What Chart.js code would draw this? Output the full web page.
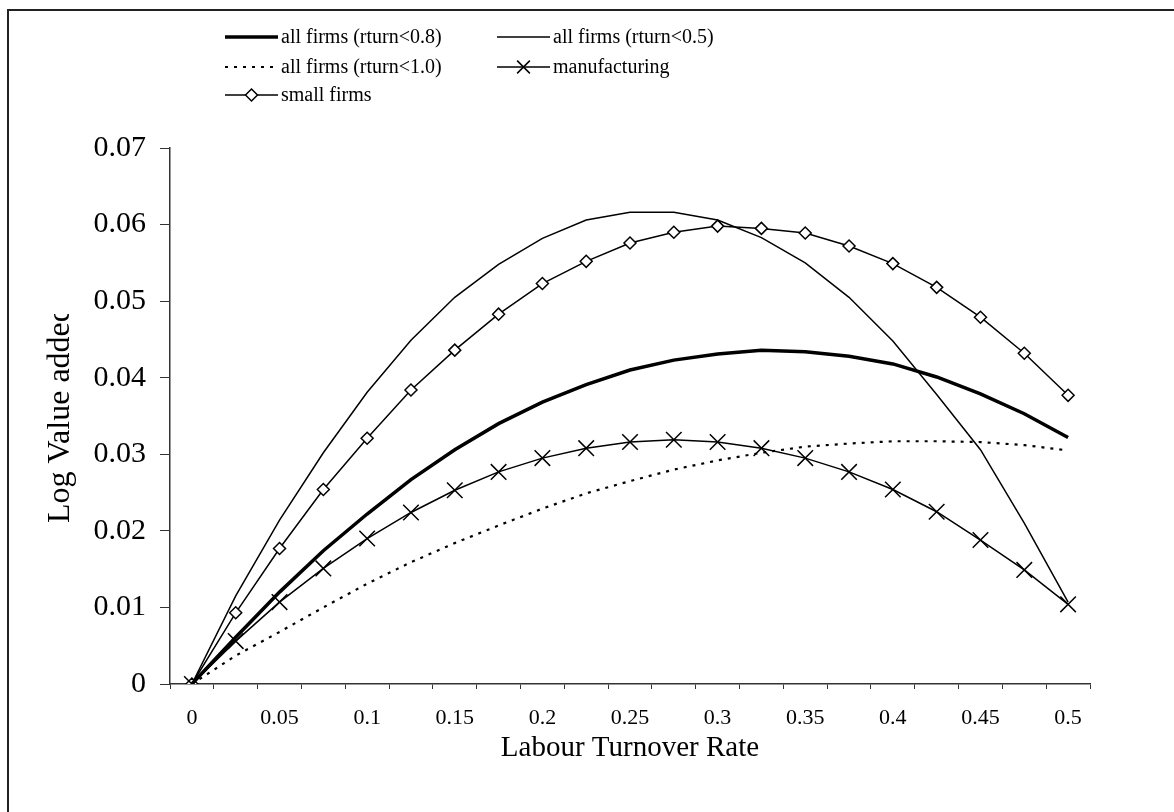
<!DOCTYPE html>
<html><head><meta charset="utf-8">
<script src="https://cdn.jsdelivr.net/npm/chart.js@4.4.1/dist/chart.umd.min.js"></script>
<style>html,body{margin:0;padding:0;background:#fff}#wrap{width:1174px;height:812px;position:relative}</style>
</head><body><div id="wrap"><canvas id="c" width="1174" height="812"></canvas></div>
<script>
// ---- data ----
const categories = ['0','0.025','0.05','0.075','0.1','0.125','0.15','0.175','0.2','0.225','0.25','0.275','0.3','0.325','0.35','0.375','0.4','0.425','0.45','0.475','0.5'];
const tickLabels = ['0','0.05','0.1','0.15','0.2','0.25','0.3','0.35','0.4','0.45','0.5'];
const seriesNames = ['all firms (rturn<0.8)','all firms (rturn<0.5)','all firms (rturn<1.0)','manufacturing','small firms'];
const rturn08 = [0,0.0061,0.0120,0.0174,0.0222,0.0267,0.0306,0.0340,0.0368,0.0391,0.0410,0.0423,0.0431,0.0436,0.0434,0.0428,0.0418,0.0401,0.0379,0.0353,0.0322];
const rturn05 = [0,0.0115,0.0214,0.0302,0.0381,0.0449,0.0505,0.0548,0.0582,0.0606,0.0616,0.0616,0.0606,0.0583,0.0550,0.0505,0.0448,0.0378,0.0306,0.0210,0.0107];
const rturn10 = [0,0.0037,0.0068,0.0100,0.0131,0.0159,0.0184,0.0207,0.0229,0.0249,0.0265,0.0280,0.0292,0.0302,0.0310,0.0314,0.0317,0.0317,0.0316,0.0312,0.0305];
const manufacturing = [0,0.0056,0.0107,0.0151,0.0190,0.0224,0.0253,0.0277,0.0295,0.0308,0.0316,0.0319,0.0316,0.0308,0.0295,0.0277,0.0254,0.0225,0.0188,0.0149,0.0104];
const smallFirms = [0,0.0093,0.0177,0.0254,0.0321,0.0384,0.0436,0.0483,0.0523,0.0552,0.0576,0.0590,0.0598,0.0595,0.0589,0.0572,0.0549,0.0518,0.0479,0.0432,0.0377];
const yTicks = [0,0.01,0.02,0.03,0.04,0.05,0.06,0.07];

const SERIF = '"Liberation Serif", "Times New Roman", serif';

function drawDiamond(ctx, x, y, r){
  ctx.beginPath(); ctx.moveTo(x, y-r); ctx.lineTo(x+r, y); ctx.lineTo(x, y+r); ctx.lineTo(x-r, y); ctx.closePath();
  ctx.fillStyle='#fff'; ctx.fill(); ctx.stroke();
}
function drawX(ctx, x, y, r){
  const d = r*Math.SQRT1_2;
  ctx.beginPath(); ctx.moveTo(x-d,y-d); ctx.lineTo(x+d,y+d); ctx.moveTo(x+d,y-d); ctx.lineTo(x-d,y+d); ctx.stroke();
}

const legendLayout = [
  {ds:0, x:225, y:37},
  {ds:1, x:497, y:37},
  {ds:2, x:225, y:67},
  {ds:3, x:497, y:67},
  {ds:4, x:225, y:95}
];

const decor = {
  id:'decor',
  beforeDraw(chart){
    const ctx = chart.ctx;
    ctx.save();
    ctx.fillStyle='#fff'; ctx.fillRect(0,0,chart.width,chart.height);
    ctx.strokeStyle='#222'; ctx.lineWidth=2;
    ctx.strokeRect(8,10,1200,900);
    ctx.restore();
  },
  afterDraw(chart){
    const ctx = chart.ctx;
    const ca = chart.chartArea;
    ctx.save();
    ctx.fillStyle='#000';
    // x title
    ctx.font = '29px ' + SERIF;
    ctx.textAlign='center'; ctx.textBaseline='middle';
    ctx.fillText('Labour Turnover Rate', (ca.left+ca.right)/2, 748);
    // y title (clipped at the top, as in the reference)
    ctx.save();
    ctx.beginPath(); ctx.rect(0, 314, 170, 400); ctx.clip();
    ctx.translate(61, 523); ctx.rotate(-Math.PI/2);
    ctx.font = '32px ' + SERIF;
    ctx.textAlign='left'; ctx.textBaseline='middle';
    ctx.fillText('Log Value added', 0, 0);
    ctx.restore();
    // legend
    ctx.font = '20px ' + SERIF;
    ctx.textAlign='left'; ctx.textBaseline='middle';
    legendLayout.forEach(it=>{
      const ds = chart.data.datasets[it.ds];
      ctx.save();
      ctx.strokeStyle='#000';
      ctx.lineWidth = ds.borderWidth;
      ctx.setLineDash(ds.borderDash || []);
      ctx.beginPath(); ctx.moveTo(it.x, it.y); ctx.lineTo(it.x+53, it.y); ctx.stroke();
      ctx.setLineDash([]);
      ctx.lineWidth = 1.5;
      if (ds.pointStyle === 'rectRot' && ds.pointRadius>0) drawDiamond(ctx, it.x+26.5, it.y, ds.pointRadius);
      if (ds.pointStyle === 'crossRot' && ds.pointRadius>0) drawX(ctx, it.x+26.5, it.y, 9);
      ctx.restore();
      ctx.fillStyle='#000';
      ctx.fillText(ds.label, it.x+56, it.y+1);
    });
    ctx.restore();
  }
};

const common = {borderColor:'#000', tension:0, fill:false};
new Chart(document.getElementById('c'), {
  type:'line',
  data:{
    labels: categories,
    datasets:[
      Object.assign({label:seriesNames[0], data:rturn08, borderWidth:3.5, pointRadius:0}, common),
      Object.assign({label:seriesNames[1], data:rturn05, borderWidth:1.5, pointRadius:0}, common),
      Object.assign({label:seriesNames[2], data:rturn10, borderWidth:2.2, borderDash:[3,6], pointRadius:0}, common),
      Object.assign({label:seriesNames[3], data:manufacturing, borderWidth:1.5, pointStyle:'crossRot', pointRadius:11, pointBorderWidth:1.5, pointBorderColor:'#000', pointBackgroundColor:'#000'}, common),
      Object.assign({label:seriesNames[4], data:smallFirms, borderWidth:1.5, pointStyle:'rectRot', pointRadius:6, pointBorderWidth:1.5, pointBorderColor:'#000', pointBackgroundColor:'#fff'}, common)
    ]
  },
  options:{
    responsive:false, animation:false, devicePixelRatio:1,
    layout:{padding:{left:0, top:148, right:84, bottom:0}},
    plugins:{legend:{display:false}, tooltip:{enabled:false}, title:{display:false}},
    scales:{
      x:{
        type:'category', offset:true,
        grid:{display:true, drawOnChartArea:false, drawTicks:true, tickLength:5, color:'#333', offset:true, lineWidth:1},
        border:{display:true, color:'#333', width:1.5},
        ticks:{autoSkip:false, maxRotation:0, minRotation:0, padding:16, color:'#000',
          font:{family:SERIF, size:22},
          callback:(v,i)=> i%2===0 ? tickLabels[i/2] : ''},
        afterFit:(s)=>{ s.height = 128; }
      },
      y:{
        min:0, max:0.07,
        grid:{display:true, drawOnChartArea:false, drawTicks:true, tickLength:10, color:'#333', lineWidth:1},
        border:{display:true, color:'#333', width:1.5},
        afterBuildTicks:(s)=>{ s.ticks = yTicks.map(v=>({value:v})); },
        ticks:{padding:14, color:'#000', font:{family:SERIF, size:30},
          callback:(v)=> String(v)},
        afterFit:(s)=>{ s.width = 170; }
      }
    }
  },
  plugins:[decor]
});
</script></body></html>
